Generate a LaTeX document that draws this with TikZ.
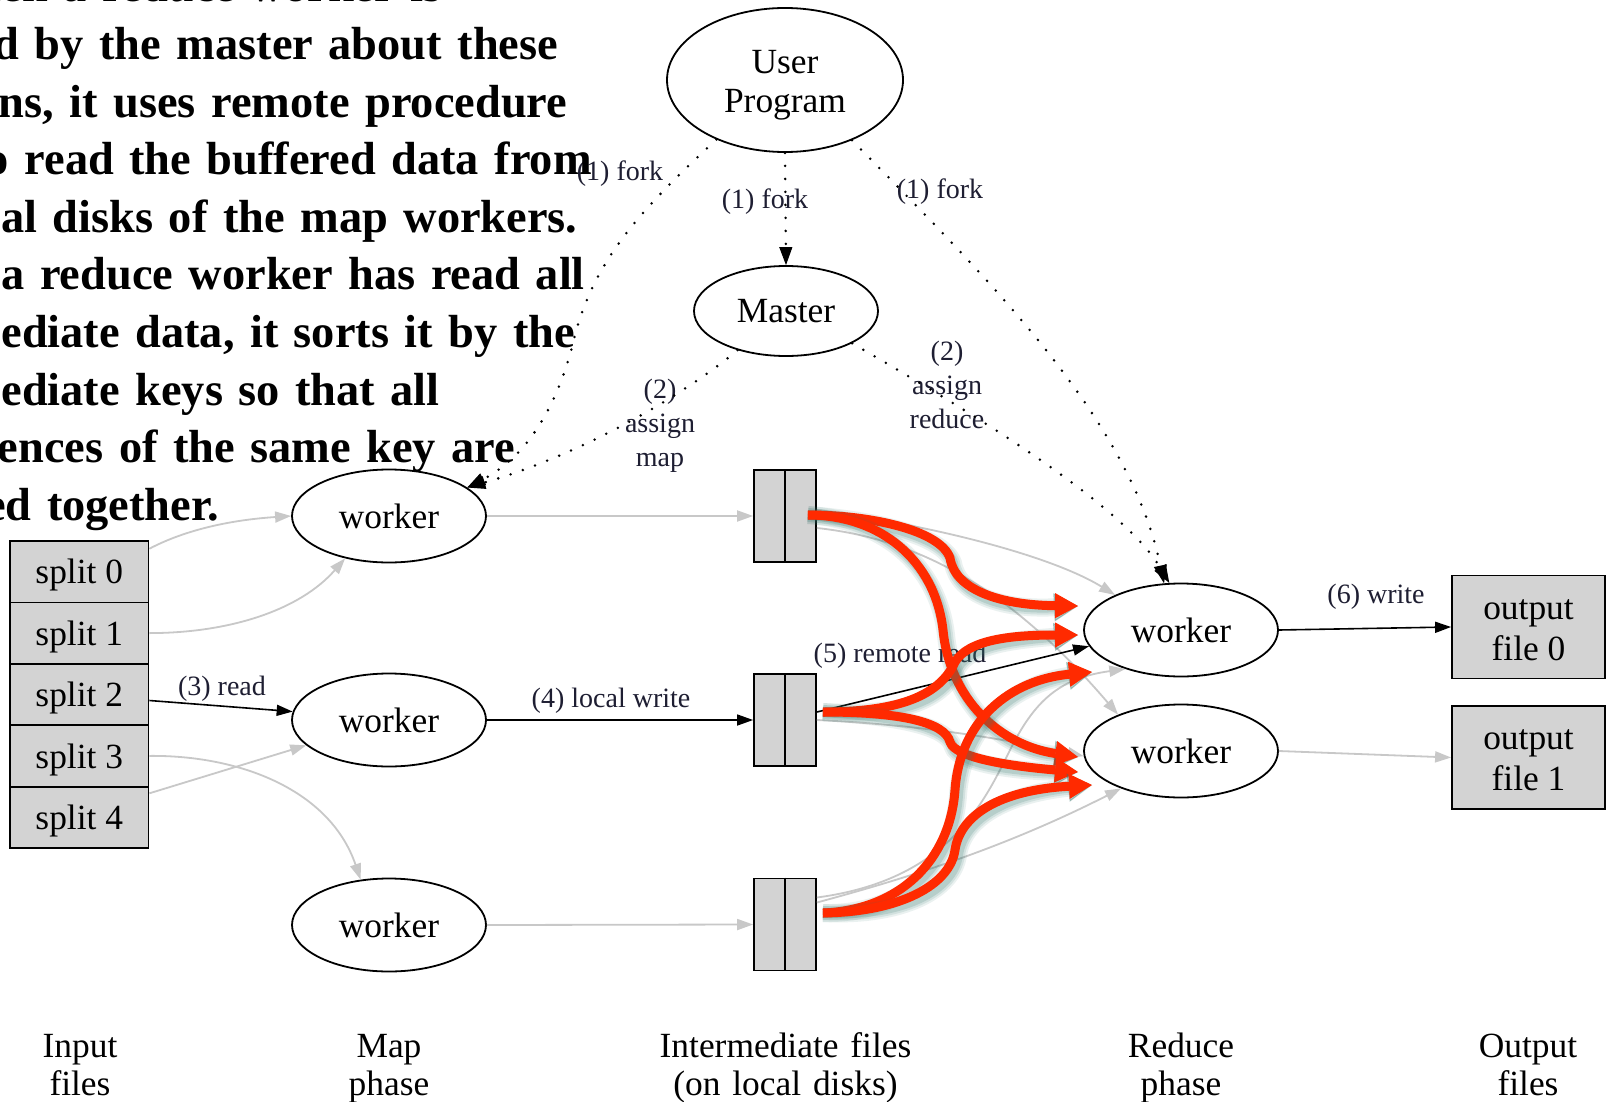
\documentclass[tikz,border=0pt]{standalone}
\usepackage{fontspec}
\setmainfont{Liberation Serif}
\usetikzlibrary{shapes.geometric,arrows.meta,calc}

\definecolor{edgegray}{RGB}{200,200,200}
\definecolor{boxgray}{RGB}{211,211,211}
\definecolor{hlred}{RGB}{255,42,0}
\definecolor{hlshadow}{RGB}{55,120,110}
\definecolor{labelink}{RGB}{30,30,50}

% a thick red flow arrow with a soft drop shadow
\newcommand{\redflow}[1]{%
  \draw[flowshade,line width=9pt,opacity=0.10] #1;
  \draw[flowshade,line width=7pt,opacity=0.13] #1;
  \draw[flowshade,line width=5pt,opacity=0.18] #1;
  \draw[flow] #1;}

\begin{document}
\begin{tikzpicture}[x=0.5pt,y=-0.5pt,
  every node/.style={inner sep=0pt},
  font=\fontsize{17.7}{19.5}\selectfont,
  oval/.style={draw,ellipse,line width=0.9pt,minimum width=97pt,minimum height=46.5pt,align=center},
  splitbox/.style={draw,fill=boxgray,line width=0.9pt,minimum width=69.25pt,minimum height=30.7pt,text depth=0pt},
  diskbox/.style={draw,fill=boxgray,line width=0.9pt,minimum width=31pt,minimum height=46pt},
  outbox/.style={draw,fill=boxgray,line width=0.9pt,minimum width=76.5pt,minimum height=51.5pt,align=center,font=\fontsize{17.7}{20.5}\selectfont},
  lbl/.style={text=labelink,align=center,font=\fontsize{14}{17}\selectfont},
  phase/.style={text width=150pt,align=center,anchor=base,font=\fontsize{17.7}{19}\selectfont},
  gtip/.style={-{Triangle[length=8pt,width=5.5pt]}},
  gedge/.style={gtip,draw=edgegray,line width=0.9pt},
  kedge/.style={gtip,draw=black,line width=0.8pt},
  dedge/.style={draw=black,line width=1.4pt,line cap=round,dash pattern=on 0pt off 6.5pt,-{Triangle[length=9pt,width=6.5pt,line width=0.5pt]}},
  flow/.style={draw=hlred,line width=4.5pt,-{Triangle[length=11.5pt,width=12.5pt,line width=0.5pt]}},
  flowshade/.style={draw=hlshadow,shift={(3,5)},-{Triangle[length=12pt,width=14pt,line width=0.5pt]}}
]
\useasboundingbox (0,0) rectangle (1606,1102);
\fill[white] (0,0) rectangle (1606,1102);
\clip (0,0) rectangle (1606,1102);

% control nodes
\node[oval,minimum width=118pt,minimum height=72pt] (user) at (785,80) {\rule{0pt}{16.5pt}User\\Program};
\node[oval,minimum width=92pt,minimum height=45pt] (master) at (786,311) {Master};

% input splits
\node[splitbox] (s0) at (79.25,571.7) {split 0};
\node[splitbox] (s1) at (79.25,633.1) {split 1};
\node[splitbox] (s2) at (79.25,694.5) {split 2};
\node[splitbox] (s3) at (79.25,755.9) {split 3};
\node[splitbox] (s4) at (79.25,817.3) {split 4};

% map workers
\node[oval] (w1) at (389,516) {worker};
\node[oval] (w2) at (389,720) {worker};
\node[oval] (w3) at (389,925) {worker};

% intermediate files on local disks
\node[diskbox] (f1) at (785,516) {};
\node[diskbox] (f2) at (785,720) {};
\node[diskbox] (f3) at (785,924.5) {};
\foreach \f in {f1,f2,f3} \draw[line width=0.9pt] (\f.north) -- (\f.south);

% reduce workers
\node[oval] (r1) at (1181,630) {worker};
\node[oval] (r2) at (1181,751) {worker};

% output files
\node[outbox] (o0) at (1528.5,627) {\rule{0pt}{13pt}output\\file 0};
\node[outbox] (o1) at (1528.5,757.5) {\rule{0pt}{13pt}output\\file 1};

% phase captions
\node[phase] (capIn) at (80,1057) {Input\\files};
\node[phase] (capMap) at (389,1057) {Map\\phase};
\node[phase] (capMid) at (785.5,1057) {Intermediate files\\(on local disks)};
\node[phase] (capRed) at (1181,1057) {Reduce\\phase};
\node[phase] (capOut) at (1528,1057) {Output\\files};

% edge labels
\node[lbl] (forkL) at (620,174) {(1) fork};
\node[lbl] (forkM) at (765,202) {(1) fork};
\node[lbl] (forkR) at (940,192) {(1) fork};
\node[lbl] (amap) at (660,426) {(2)\\assign\\map};
\node[lbl] (ared) at (947,385) {(2)\\assign\\reduce};
\node[lbl] (lread) at (222,689) {(3) read};
\node[lbl] (lwrite) at (611,701) {(4) local write};
\node[lbl] (lremote) at (900,656) {(5) remote read};
\node[lbl] (lout) at (1376,597) {(6) write};

% fork and assignment (dotted)
\draw[dedge] (user.221) .. controls (640,210) and (595,260) .. (575,335) .. controls (560,400) and (530,455) .. (w1.20);
\draw[dedge] (user.270) -- (master.90);
\draw[dedge] (user.318) .. controls (990,280) and (1130,420) .. (r1.110);
\draw[dedge] (master.219) .. controls (690,390) and (590,452) .. (w1.20);
\draw[dedge] (master.334) .. controls (950,400) and (1120,500) .. (r1.104);

% splits to map workers
\draw[gedge] ($(s0.east)+(0,-23)$) .. controls (185,530) and (230,520) .. (w1.west);
\draw[gedge] (s1.east) .. controls (230,633) and (300,610) .. (w1.224);
\draw[kedge] ($(s2.east)+(0,6)$) -- (w2.175);
\draw[gedge] (s3.east) .. controls (240,755) and (330,790) .. (w3.122);
\draw[gedge] ($(s4.east)+(0,-24)$) -- (w2.197);

% map workers to local files
\draw[gedge] (w1.east) -- (f1.west);
\draw[kedge] (w2.east) -- (f2.west);
\draw[gedge] (w3.east) -- (f3.west);

% local files to reduce workers
\draw[gedge] ($(f1.east)+(0,-6)$) .. controls (930,525) and (1050,555) .. (r1.152);
\draw[gedge] ($(f1.east)+(0,12)$) .. controls (930,540) and (1020,600) .. (r2.150);
\draw[kedge] ($(f2.east)+(0,-8)$) -- (r1.190);
\draw[gedge] (f2.east) .. controls (920,725) and (1000,738) .. (r2.183);
\draw[gedge] ($(f3.east)+(0,-27)$) .. controls (950,880) and (985,800) .. (1010,750) .. controls (1035,700) and (1060,678) .. (r1.215);
\draw[gedge] ($(f3.east)+(0,-22)$) .. controls (900,880) and (1000,850) .. (r2.212);

% reduce workers to output files
\draw[kedge] (r1.east) -- (o0.west);
\draw[gedge] (r2.east) -- (o1.west);

% highlighted remote reads
\coordinate (ra) at ($(f1.east)+(-9,-1)$);
\coordinate (rb) at ($(f2.east)+(6,-8)$);
\coordinate (rc) at ($(f3.east)+(6,-11.5)$);
\coordinate (ta) at (1078,606);
\coordinate (tb) at (1078,757);
\coordinate (tc) at (1078,635);
\coordinate (td) at (1078,772);
\coordinate (te) at (1092,672);
\coordinate (tf) at (1092,785);
\redflow{(ra) .. controls (870,515) and (940,530) .. (950,558) .. controls (955,590) and (1000,605) .. (ta)}
\redflow{(ra) .. controls (880,515) and (935,560) .. (943,630) .. controls (950,700) and (1000,745) .. (tb)}
\redflow{(rb) .. controls (900,712) and (940,695) .. (955,662) .. controls (968,640) and (1010,635) .. (tc)}
\redflow{(rb) .. controls (900,712) and (945,722) .. (950,742) .. controls (955,758) and (1010,766) .. (td)}
\redflow{(rc) .. controls (900,910) and (950,860) .. (955,790) .. controls (960,720) and (1010,680) .. (te)}
\redflow{(rc) .. controls (900,912) and (950,885) .. (955,850) .. controls (960,815) and (1000,790) .. (tf)}

% explanatory note
\node[anchor=base west,text width=460pt,align=left,font=\fontsize{23.2}{28.8}\selectfont\bfseries] (note) at (-133,2)
  {\hspace*{31pt}When a reduce worker is\\notified by the master about these\\locations, it uses remote procedure\\calls to read the buffered data from\\the local disks of the map workers.\\When a reduce worker has read all\\intermediate data, it sorts it by the\\intermediate keys so that all\\occurrences of the same key are\\grouped together.};
\end{tikzpicture}
\end{document}
